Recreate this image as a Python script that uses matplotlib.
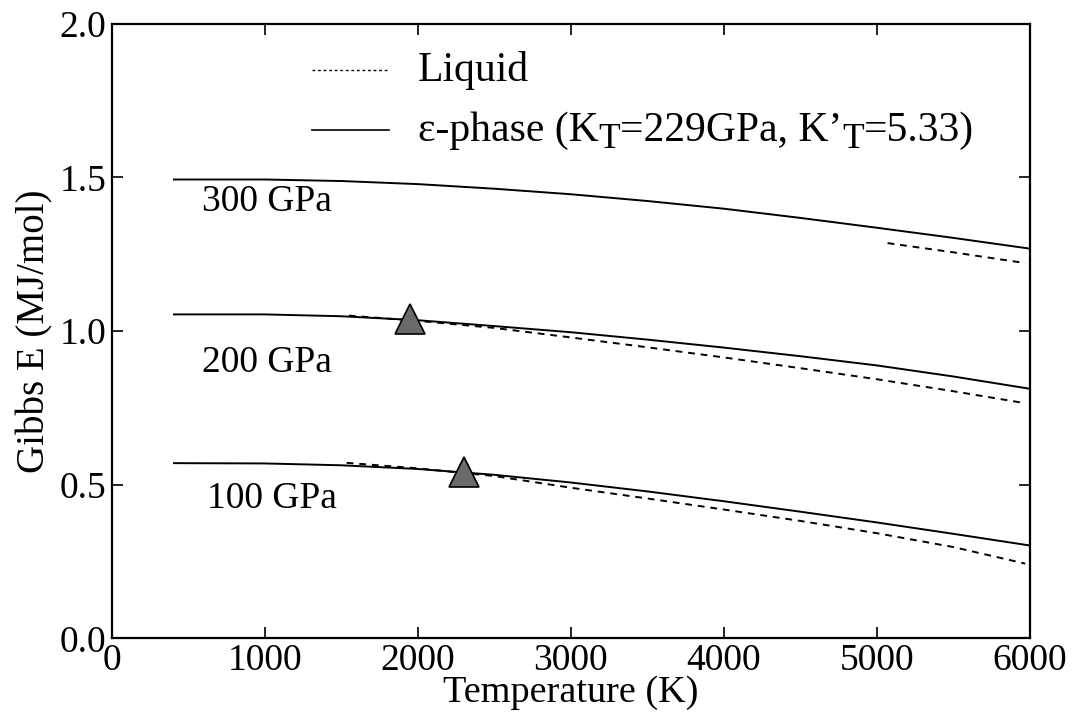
import matplotlib
matplotlib.use("Agg")
import matplotlib.pyplot as plt
from matplotlib.transforms import offset_copy

# ---- data ----
T_solid = [400, 1000, 1500, 2000, 2500, 3000, 3500, 4000, 4500, 5000, 5500, 6000]
G_solid_300 = [1.493, 1.493, 1.488, 1.478, 1.463, 1.445, 1.423, 1.398, 1.368, 1.336, 1.303, 1.268]
G_solid_200 = [1.054, 1.054, 1.048, 1.035, 1.016, 0.996, 0.972, 0.946, 0.918, 0.888, 0.852, 0.812]
G_solid_100 = [0.570, 0.569, 0.563, 0.551, 0.532, 0.507, 0.478, 0.446, 0.412, 0.377, 0.340, 0.302]

T_liq_300 = [5070, 5500, 5970]
G_liq_300 = [1.286, 1.256, 1.221]
T_liq_200 = [1550, 2000, 2500, 3000, 3500, 4000, 4500, 5000, 5500, 5970]
G_liq_200 = [1.050, 1.033, 1.010, 0.979, 0.947, 0.914, 0.879, 0.843, 0.804, 0.765]
T_liq_100 = [1535, 2000, 2500, 3000, 3500, 4000, 4500, 5000, 5500, 5970]
G_liq_100 = [0.571, 0.553, 0.528, 0.490, 0.455, 0.419, 0.382, 0.342, 0.297, 0.243]

T_melt = [1950, 2300]
G_melt = [1.040, 0.540]

pressure_labels = ["300 GPa", "200 GPa", "100 GPa"]
label_T = [590, 590, 620]
label_G = [1.42, 0.898, 0.455]

xticks = [0, 1000, 2000, 3000, 4000, 5000, 6000]
yticks = [0.0, 0.5, 1.0, 1.5, 2.0]

legend_liquid = "Liquid"
legend_solid_parts = [("ε-phase (K", False), ("T", True), ("=229GPa, K’", False),
                      ("T", True), ("=5.33)", False)]

# ---- style ----
plt.rcParams["font.family"] = ["Liberation Serif", "DejaVu Serif"]

fig = plt.figure(figsize=(10.75, 7.18), dpi=100)
ax = fig.add_axes([0.104, 0.111, 0.854, 0.856])

fs = 27
fs_leg = 30
lw = 1.4
dash = (0, (3.5, 3))

for G in (G_solid_300, G_solid_200, G_solid_100):
    ax.plot(T_solid, G, color="black", lw=lw, solid_capstyle="butt")
for T, G in ((T_liq_300, G_liq_300), (T_liq_200, G_liq_200), (T_liq_100, G_liq_100)):
    ax.plot(T, G, color="black", lw=lw, linestyle=dash)

ax.plot(T_melt, G_melt, linestyle="none", marker="^", markersize=22,
        markerfacecolor="#6a6a6a", markeredgecolor="black", markeredgewidth=1.2)

for lab, x, y in zip(pressure_labels, label_T, label_G):
    ax.text(x, y, lab, fontsize=fs, ha="left", va="center")

ax.set_xlim(0, 6000)
ax.set_ylim(0, 2.0)

# legend drawn manually as in the original
ax.plot([1310, 1810], [1.849, 1.849], color="black", lw=1.0, linestyle=(0, (2, 2)))
ax.text(2000, 1.849, legend_liquid, fontsize=fs_leg, ha="left", va="center")
ax.plot([1310, 1810], [1.655, 1.655], color="black", lw=1.2)

fig.canvas.draw()
renderer = fig.canvas.get_renderer()
trans = ax.transData
x0, y0 = 2000, 1.62
for s, sub in legend_solid_parts:
    size = fs_leg * 0.85 if sub else fs_leg
    t = ax.text(x0, y0, s, fontsize=size, ha="left", va="baseline",
                transform=offset_copy(trans, fig=fig, x=0, y=-8 if sub else 0, units="dots"))
    t.draw(renderer)
    ex = t.get_window_extent(renderer)
    trans = offset_copy(trans, fig=fig, x=ex.width, units="dots")

ax.set_xticks(xticks)
ax.set_yticks(yticks)
ax.set_xticklabels([str(t) for t in xticks])
ax.set_yticklabels([f"{t:.1f}" for t in yticks])
ax.tick_params(direction="in", length=8, width=1.2, top=True, right=True,
               labelsize=fs, pad=4)
for s in ax.spines.values():
    s.set_linewidth(1.6)

ax.set_xlabel("Temperature (K)", fontsize=fs + 0.5, labelpad=-2)
ax.set_ylabel("Gibbs E (MJ/mol)", fontsize=fs + 1, labelpad=4)

fig.savefig("out.png", dpi=100)
